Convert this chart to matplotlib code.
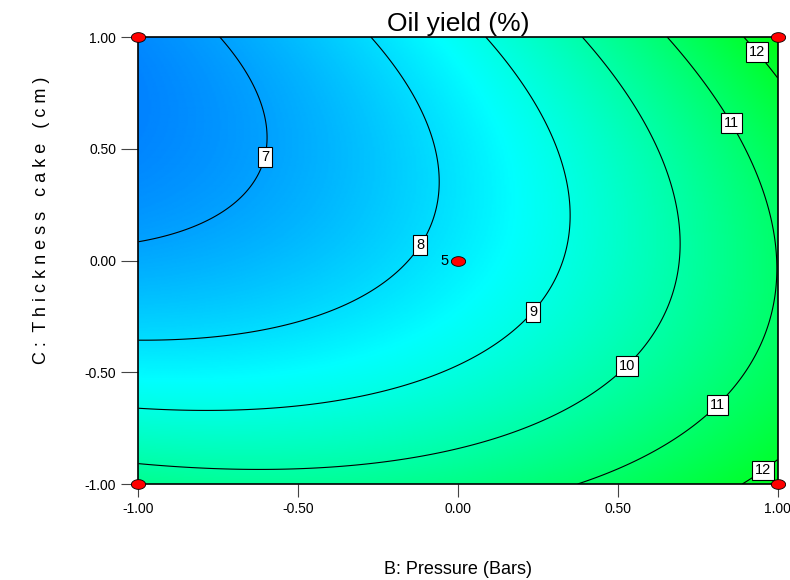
import numpy as np
import matplotlib
matplotlib.use("Agg")
import matplotlib.pyplot as plt
from matplotlib.colors import LinearSegmentedColormap
from matplotlib.path import Path

plt.rcParams['font.family'] = ['Liberation Sans', 'DejaVu Sans']

# Quadratic response-surface model for oil yield (coded factors B, C)
term_names = ["Intercept", "B", "C", "BC", "B^2", "C^2"]
coefficients = [8.28, 1.93, -0.90, 1.00, 0.80, 1.36]

contour_levels = [7, 8, 9, 10, 11, 12]
tick_values = [-1.0, -0.5, 0.0, 0.5, 1.0]
tick_labels = ["-1.00", "-0.50", "0.00", "0.50", "1.00"]

# Design points (factorial corners + centre point with 5 replicates)
design_B = [-1.0, 1.0, -1.0, 1.0, 0.0]
design_C = [-1.0, -1.0, 1.0, 1.0, 0.0]
centre_replicates = 5

# Contour-label anchor positions (coded units)
label_B = [-0.62, -0.14, 0.22, 0.52, 0.86, 0.81, 0.94, 0.95]
label_C = [0.47, 0.09, -0.21, -0.46, 0.62, -0.64, 0.94, -0.93]


def yield_model(b, c):
    k0, kb, kc, kbc, kbb, kcc = coefficients
    return k0 + kb * b + kc * c + kbc * b * c + kbb * b ** 2 + kcc * c ** 2


grid = np.linspace(-1, 1, 400)
BB, CC = np.meshgrid(grid, grid)
ZZ = yield_model(BB, CC)

cmap = LinearSegmentedColormap.from_list(
    "de_spectrum", [(0.0, 0.0, 1.0), (0.0, 1.0, 1.0), (0.0, 1.0, 0.0)])

fig = plt.figure(figsize=(7.9, 5.8), dpi=100)
ax = fig.add_axes([0.1753, 0.1655, 0.809, 0.7707])

ax.imshow(ZZ, extent=[-1, 1, -1, 1], origin="lower", cmap=cmap,
          vmin=4.3, vmax=12.8, aspect="auto", interpolation="bilinear")
cs = ax.contour(BB, CC, ZZ, levels=contour_levels, colors="black",
                linewidths=0.8)
labels = ax.clabel(cs, fmt="%d", inline=False, fontsize=10.5,
                   manual=list(zip(label_B, label_C)))
for t in labels:
    t.set_rotation(0)
    t.set_bbox(dict(boxstyle="square,pad=0.2", fc="white", ec="black",
                    lw=0.8))
    t.set_zorder(5)

# Elliptical marker for design points
theta = np.linspace(0, 2 * np.pi, 60)
ellipse = Path(np.column_stack([np.cos(theta), 0.68 * np.sin(theta)]))
ax.scatter(design_B, design_C, s=105, marker=ellipse, c="red",
           edgecolors="black", linewidths=0.6, zorder=6, clip_on=False)
ax.annotate(str(centre_replicates), (design_B[4], design_C[4]),
            xytext=(-10, 0), textcoords="offset points", ha="center",
            va="center", fontsize=10.5, zorder=6)

ax.set_xlim(-1, 1)
ax.set_ylim(-1, 1)
ax.set_xticks(tick_values)
ax.set_xticklabels(tick_labels)
ax.set_yticks(tick_values)
ax.set_yticklabels(tick_labels)
ax.tick_params(direction="out", length=12, width=0.8, color="#444444",
               labelsize=10, pad=4)
ax.tick_params(axis="x", length=9, pad=4)
for side in ["top", "right", "left", "bottom"]:
    ax.spines[side].set_linewidth(1.2)

ax.set_title("Oil yield (%)", fontsize=19, pad=4)
ax.set_xlabel("B: Pressure (Bars)", fontsize=13, labelpad=32)
fig.text(42 / 790, 1 - 220 / 580,
         "C :  T h i c k n e s s   c a k e   ( c m )",
         rotation=90, ha="center", va="center", fontsize=13)

fig.savefig("out.png", dpi=100)
